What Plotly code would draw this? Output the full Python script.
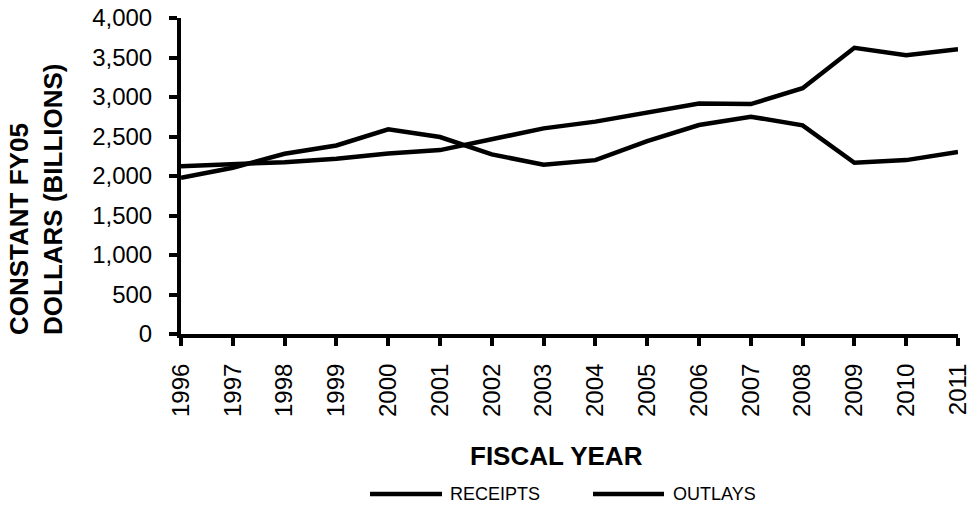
import plotly.graph_objects as go

years = list(range(1996, 2012))
receipts = [1977, 2104, 2282, 2387, 2590, 2493, 2273, 2142, 2201, 2442, 2645, 2751, 2641, 2167, 2201, 2303]
outlays = [2125, 2146, 2175, 2218, 2286, 2328, 2472, 2603, 2688, 2803, 2918, 2910, 3111, 3623, 3530, 3606]
y_ticks = [0, 500, 1000, 1500, 2000, 2500, 3000, 3500, 4000]
series_names = ["RECEIPTS", "OUTLAYS"]

W, H = 970, 507
L, R, T, B = 181, 12, 18, 173
PW, PH = W - L - R, H - T - B

def px_x(p):
    return (p - L) / PW

def px_y(p):
    return (H - B - p) / PH

FONT = "Arial, Liberation Sans, sans-serif"

fig = go.Figure()
for name, vals in zip(series_names, [receipts, outlays]):
    fig.add_trace(go.Scatter(x=years, y=vals, mode="lines", name=name,
                             line=dict(color="black", width=4.5), showlegend=False))

fig.update_layout(
    width=W, height=H,
    margin=dict(l=L, r=R, t=T, b=B, pad=0, autoexpand=False),
    plot_bgcolor="white", paper_bgcolor="white",
    font=dict(family=FONT, color="black"),
    xaxis=dict(range=[1996, 2011], tickmode="array", tickvals=years,
               ticktext=[str(y) for y in years], tickangle=-90,
               showgrid=False, zeroline=False, showline=True, linecolor="black", linewidth=4,
               ticks="outside", ticklen=8, tickwidth=4, tickcolor="black",
               ticklabeloverflow="allow", automargin=False,
               tickfont=dict(size=24, family=FONT, color="black"), ticklabelstandoff=8),
    yaxis=dict(range=[0, 4000], tickmode="array", tickvals=y_ticks,
               ticktext=[f"{v:,}" for v in y_ticks],
               showgrid=False, zeroline=False, showline=True, linecolor="black", linewidth=4,
               ticks="outside", ticklen=8, tickwidth=4, tickcolor="black",
               ticklabeloverflow="allow", automargin=False,
               tickfont=dict(size=24, family=FONT, color="black"), ticklabelstandoff=12),
)

# axis titles
fig.add_annotation(xref="paper", yref="paper", x=px_x(556.5), y=px_y(455.5),
                   text="<b>FISCAL YEAR</b>", showarrow=False,
                   font=dict(size=26, family=FONT, color="black"),
                   xanchor="center", yanchor="middle")
fig.add_annotation(xref="paper", yref="paper", x=px_x(36), y=px_y(199),
                   text="<b>CONSTANT FY05</b><br><b>DOLLARS (BILLIONS)</b>", showarrow=False,
                   textangle=-90, align="left",
                   font=dict(size=26, family=FONT, color="black"),
                   xanchor="center", yanchor="middle")

# legend
leg = [(370, 442, 447.5), (593, 664, 670.5)]
for name, (x0, x1, tx) in zip(series_names, leg):
    fig.add_shape(type="line", xref="paper", yref="paper",
                  x0=px_x(x0), x1=px_x(x1), y0=px_y(494), y1=px_y(494),
                  line=dict(color="black", width=4.5))
    fig.add_annotation(xref="paper", yref="paper", x=px_x(tx), y=px_y(494),
                       text=name, showarrow=False, xanchor="left", yanchor="middle",
                       font=dict(size=18, family=FONT, color="black"))

fig.write_html("out.html", config={"displayModeBar": False},
               post_script="document.body.style.margin='0';document.body.style.overflow='hidden';")
